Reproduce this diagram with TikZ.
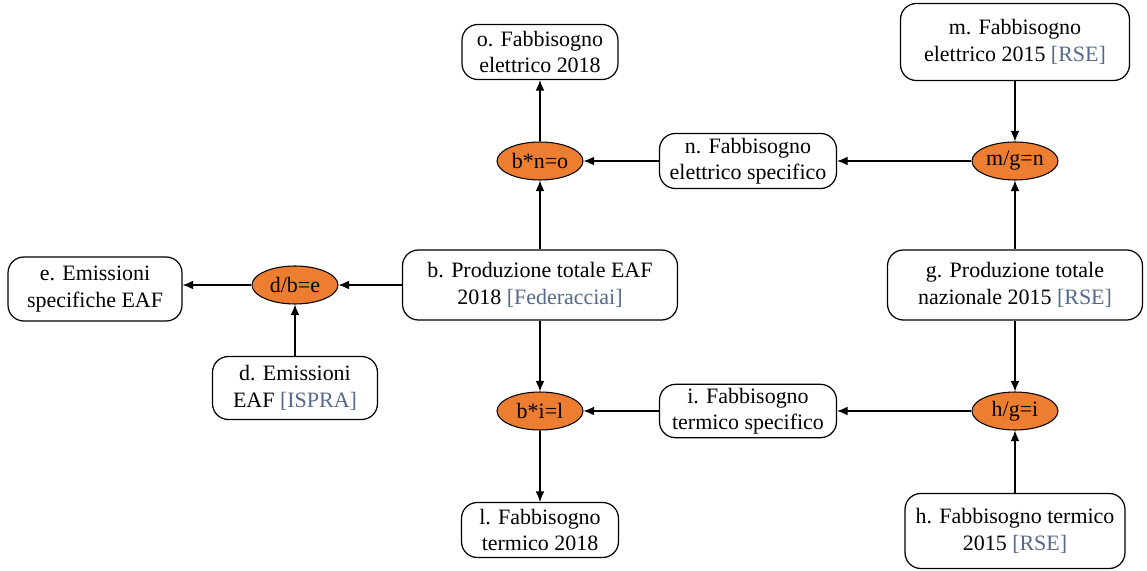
\documentclass[tikz,border=0pt]{standalone}
\usepackage{fontspec}
\setmainfont{Liberation Serif}
\usetikzlibrary{shapes.geometric,arrows.meta}
\definecolor{calcorange}{HTML}{ED7D31}
\definecolor{srcblue}{HTML}{56698A}
\newcommand{\src}[1]{\textcolor{srcblue}{[#1]}}
\begin{document}
\begin{tikzpicture}[x=0.02cm,y=-0.02cm,
        arrow/.style = {line width=0.7pt,-{Latex[length=6pt,width=5pt]}},
        databox/.style = {draw,line width=0.7pt,rounded corners=9pt,fill=white,
            align=center,inner sep=2pt,font=\fontsize{12.5}{15}\selectfont},
        calc/.style = {draw,line width=0.6pt,ellipse,fill=calcorange,inner sep=0pt,
            minimum width=1.72cm,minimum height=0.76cm,font=\fontsize{12.5}{15}\selectfont}]
    \useasboundingbox (0,0) rectangle (1147,571);

    % data boxes
    \node[databox,minimum width=3.12cm,minimum height=1.10cm] (o) at (540,52)
        {o. Fabbisogno\\elettrico 2018};
    \node[databox,minimum width=4.58cm,minimum height=1.54cm] (m) at (1015,42)
        {m. Fabbisogno\\elettrico 2015 \src{RSE}};
    \node[databox,minimum width=3.54cm,minimum height=1.10cm] (n) at (748,161)
        {n. Fabbisogno\\elettrico specifico};
    \node[databox,minimum width=3.48cm,minimum height=1.28cm] (e) at (95,289)
        {e. Emissioni\\specifiche EAF};
    \node[databox,minimum width=5.50cm,minimum height=1.40cm] (b) at (540,285)
        {b. Produzione totale EAF\\2018 \src{Federacciai}};
    \node[databox,minimum width=5.10cm,minimum height=1.40cm] (g) at (1015,285)
        {g. Produzione totale\\nazionale 2015 \src{RSE}};
    \node[databox,minimum width=3.30cm,minimum height=1.26cm] (d) at (295,388)
        {d. Emissioni\\EAF \src{ISPRA}};
    \node[databox,minimum width=3.54cm,minimum height=1.06cm] (i) at (748,411)
        {i. Fabbisogno\\termico specifico};
    \node[databox,minimum width=3.14cm,minimum height=1.10cm] (l) at (540,530)
        {l. Fabbisogno\\termico 2018};
    \node[databox,minimum width=4.40cm,minimum height=1.50cm] (h) at (1015,531)
        {h. Fabbisogno termico\\2015 \src{RSE}};

    % calculations
    \node[calc] (bno) at (540,161) {b*n=o};
    \node[calc] (mgn) at (1015,161) {m/g=n};
    \node[calc] (dbe) at (295,285) {d/b=e};
    \node[calc] (bil) at (540,411) {b*i=l};
    \node[calc] (hgi) at (1015,411) {h/g=i};

    % flows
    \draw[arrow] (b) -- (bno);
    \draw[arrow] (bno) -- (o);
    \draw[arrow] (n) -- (bno);
    \draw[arrow] (m) -- (mgn);
    \draw[arrow] (g) -- (mgn);
    \draw[arrow] (mgn) -- (n);
    \draw[arrow] (b) -- (dbe);
    \draw[arrow] (d) -- (dbe);
    \draw[arrow] (dbe) -- (dbe.west -| e.east);
    \draw[arrow] (b) -- (bil);
    \draw[arrow] (bil) -- (l);
    \draw[arrow] (i) -- (bil);
    \draw[arrow] (g) -- (hgi);
    \draw[arrow] (h) -- (hgi);
    \draw[arrow] (hgi) -- (i);
\end{tikzpicture}
\end{document}
